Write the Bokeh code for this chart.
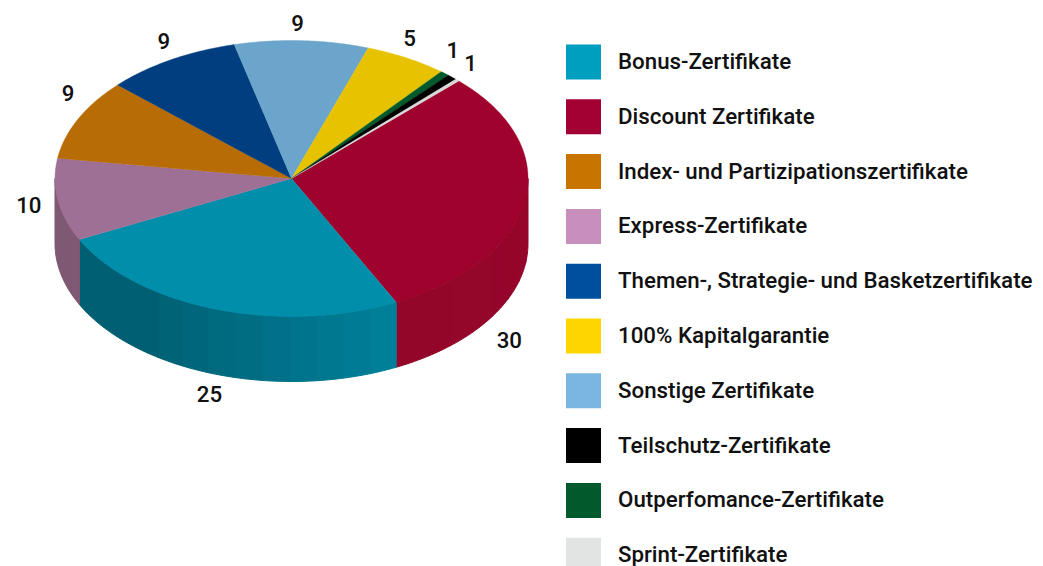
import math
from bokeh.plotting import figure
from bokeh.core.properties import value
from bokeh.embed import file_html
from bokeh.resources import INLINE

# Data, clockwise from the Discount slice
categories = ["Discount Zertifikate", "Bonus-Zertifikate", "Express-Zertifikate",
              "Index- und Partizipationszertifikate", "Themen-, Strategie- und Basketzertifikate",
              "Sonstige Zertifikate", "100% Kapitalgarantie", "Outperfomance-Zertifikate",
              "Teilschutz-Zertifikate", "Sprint-Zertifikate"]
shares = [30.2, 25, 9.65, 9.5, 9.25, 9.15, 5.65, 0.64, 0.67, 0.28]
labels = ["30", "25", "10", "9", "9", "9", "5", "1", "1", ""]
top_colors = ["#9E022D", "#008EAB", "#9F7095", "#B86C05", "#003E7F",
              "#6BA5CB", "#E6C200", "#005A2B", "#000000", "#D8DADA"]
side_left = ["#93062A", "#005F72", "#7F5874", "#000000", "#000000",
             "#000000", "#000000", "#000000", "#000000", "#000000"]
side_right = ["#96052B", "#007F99", "#87607D", "#000000", "#000000",
              "#000000", "#000000", "#000000", "#000000", "#000000"]
label_nudge = [(-15.5, 139.5), (-6, 85), (-29, 5), (-10, -26), (-7, -19),
               (-4, -18), (3, -20), (8, -23), (18.5, -14), (0, 0)]

legend_order = ["Bonus-Zertifikate", "Discount Zertifikate", "Index- und Partizipationszertifikate",
                "Express-Zertifikate", "Themen-, Strategie- und Basketzertifikate", "100% Kapitalgarantie",
                "Sonstige Zertifikate", "Teilschutz-Zertifikate", "Outperfomance-Zertifikate", "Sprint-Zertifikate"]
legend_colors = ["#009FBF", "#A30034", "#C87400", "#C98FBC", "#004F9F",
                 "#FFD500", "#7AB6E0", "#000000", "#005A2B", "#E2E4E3"]

CX, CY, RX, RY, DEPTH = 291.0, 178.0, 236.5, 138.0, 65.0
START = 45.0
FONT = value("Roboto Medium")

p = figure(width=1043, height=566, x_range=(0, 1043), y_range=(566, 0),
           output_backend="svg", toolbar_location=None, min_border=0,
           margin=(0, 0, 0, 0), outline_line_color=None, background_fill_color="white")
p.axis.visible = False
p.grid.visible = False


def rim(theta, drop=0.0):
    t = math.radians(theta)
    return CX + RX * math.sin(t), CY - RY * math.cos(t) + drop


def arc(a, b, drop=0.0):
    n = max(2, int(abs(b - a) / 1.0) + 1)
    return [rim(a + (b - a) * i / n, drop) for i in range(n + 1)]


def mix(c1, c2, f):
    a = [int(c1[i:i + 2], 16) for i in (1, 3, 5)]
    b = [int(c2[i:i + 2], 16) for i in (1, 3, 5)]
    return "#%02X%02X%02X" % tuple(round(x + (y - x) * f) for x, y in zip(a, b))


total = sum(shares)
edges = [START]
for s in shares:
    edges.append(edges[-1] + s / total * 360)

# Side walls, split in vertical strips
for i in range(len(shares)):
    a, b = max(edges[i], 90.0), min(edges[i + 1], 270.0)
    if a >= b:
        continue
    n = 8 if i == 0 else 1
    if i == 1:
        # the dark end of the wall runs as one wide strip, then nine narrow ones
        wide = (b - a) * 0.33
        cuts = [b, b - wide] + [b - wide - (b - a - wide) * k / 9 for k in range(1, 10)]
    else:
        cuts = [b - (b - a) * k / n for k in range(n + 1)]
    cuts = cuts[::-1]
    for k in range(len(cuts) - 1):
        f = 1 - k / max(1, len(cuts) - 2) if len(cuts) > 2 else 0
        col = mix(side_left[i], side_right[i], f)
        pts = arc(cuts[k], cuts[k + 1]) + arc(cuts[k + 1], cuts[k], DEPTH)
        p.patch([q[0] for q in pts], [q[1] for q in pts], fill_color=col, line_color=col, line_width=1)

# Top face
for i in range(len(shares)):
    pts = [(CX, CY)] + arc(edges[i], edges[i + 1])
    p.patch([q[0] for q in pts], [q[1] for q in pts], fill_color=top_colors[i],
            line_color=top_colors[i], line_width=0.4)

# Value labels
for i, lab in enumerate(labels):
    if not lab:
        continue
    x, y = rim((edges[i] + edges[i + 1]) / 2)
    p.text([x + label_nudge[i][0]], [y + label_nudge[i][1]], text=[lab], text_font=FONT,
           text_font_size="22.3px", text_color="#111111", text_align="center", text_baseline="middle")

# Legend
for i, (name, col) in enumerate(zip(legend_order, legend_colors)):
    yc = 61.5 + 54.8 * i
    p.quad(left=[565.5], right=[600.5], top=[yc - 17.5], bottom=[yc + 17.5], fill_color=col, line_color=None)
    p.text([617.5], [yc - 1], text=[name], text_font=FONT, text_font_size="22.3px",
           text_color="#111111", text_align="left", text_baseline="middle")

open("out.html", "w").write(file_html(p, INLINE))
